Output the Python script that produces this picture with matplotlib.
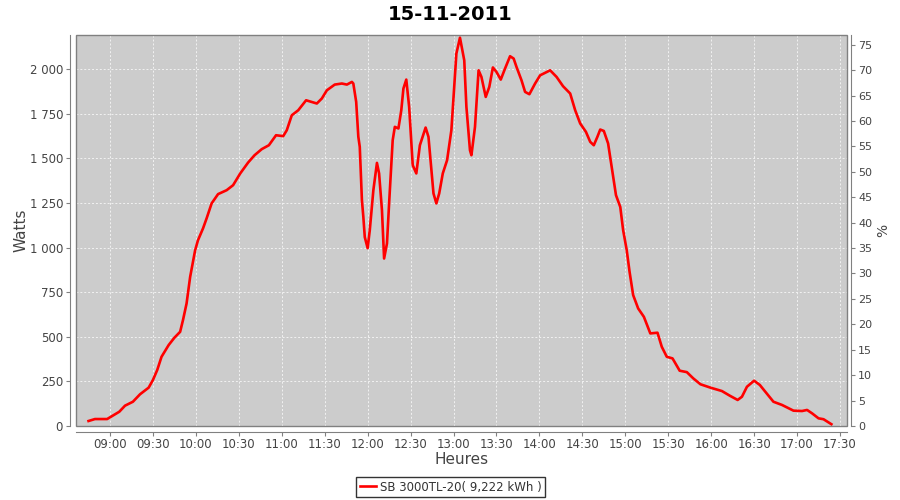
import matplotlib
matplotlib.use("Agg")
import matplotlib.pyplot as plt
from matplotlib.patches import Rectangle
from matplotlib.ticker import FuncFormatter

# time in minutes since midnight, power in watts
minutes = [525, 529.5, 538, 542, 546.5, 550.5, 556, 561, 567, 570, 573, 576, 581, 585, 589,
           591, 593.5, 596, 599.5, 601.5, 605, 607.5, 611, 615.5, 621.5, 626, 631, 636.5, 641,
           646, 651, 656, 661, 663.5, 667, 671.5, 677, 684.5, 688, 691.5, 697, 702, 705.5, 709,
           710, 712, 713.5, 714.5, 716, 717, 718, 720, 721.5, 724, 726.5, 728, 730, 731.5, 733.5,
           735, 737.5, 739, 741.5, 743.5, 745, 747, 749, 751.5, 754, 756.5, 760.5, 762.5, 766,
           768, 770, 772.5, 775.5, 778.5, 782, 784.5, 787.5, 789, 791.5, 792.5, 795, 797.5, 799.5,
           802.5, 805, 807.5, 810, 813, 816, 819.5, 822, 824, 827.5, 830, 833, 837, 840.5, 847.5,
           852, 856.5, 861.5, 865, 868.5, 872.5, 875.5, 878, 880.5, 882.5, 885, 888, 890.5, 893.5,
           896.5, 898.5, 901, 903, 905.5, 909, 913, 917.5, 922.5, 925.5, 929, 933, 938, 943,
           947.5, 952.5, 959.5, 967.5, 973, 978.5, 981.5, 985, 990, 994, 1003.5, 1009.5, 1017.5,
           1023.5, 1027, 1030.5, 1035, 1038.5, 1044]
watts = [28, 39, 39, 58, 80, 114, 136, 178, 215, 258, 314, 388, 454, 495, 528,
         594, 687, 836, 986, 1042, 1108, 1164, 1248, 1300, 1322, 1350, 1416, 1477, 1518,
         1552, 1574, 1630, 1625, 1658, 1742, 1770, 1826, 1808, 1836, 1882, 1914, 1920, 1914, 1929,
         1920, 1817, 1621, 1565, 1266, 1172, 1059, 997, 1098, 1322, 1475, 1416, 1210, 939, 1023,
         1248, 1602, 1677, 1668, 1770, 1892, 1942, 1789, 1462, 1416, 1574, 1673, 1621, 1304,
         1248, 1304, 1416, 1490, 1658, 2088, 2177, 2050, 1789, 1546, 1518, 1677, 1994, 1957,
         1845, 1901, 2010, 1985, 1942, 2004, 2073, 2060, 2013, 1938, 1873, 1860, 1920, 1966, 1994,
         1957, 1905, 1864, 1770, 1696, 1649, 1593, 1574, 1621, 1662, 1654, 1584, 1453, 1294,
         1228, 1098, 986, 864, 734, 659, 612, 519, 523, 444, 388, 379, 310, 302,
         267, 234, 215, 196, 170, 146, 164, 220, 254, 230, 136, 118, 86,
         84, 90, 71, 43, 38, 10]

title = "15-11-2011"
series_label = "SB 3000TL-20( 9,222 kWh )"
x_label = "Heures"
y_label = "Watts"
y2_label = "%"
x_tick_minutes = list(range(540, 1051, 30))
y_ticks = list(range(0, 2001, 250))
y2_ticks = list(range(0, 76, 5))

plt.rcParams['font.family'] = ['DejaVu Sans']
fig = plt.figure(figsize=(9, 5), dpi=100)
fig.patch.set_facecolor('white')

ax = fig.add_axes([75.5 / 900, 1 - 426 / 500, (847 - 75.5) / 900, (426 - 35) / 500])
ax.set_facecolor('#cccccc')

ax.plot(minutes, watts, color='#ff0000', lw=1.9, label=series_label, zorder=3)

ax.set_xlim(515.9, 1054.9)
ax.set_ylim(0, 2192)

def fmt_time(v, pos):
    h = int(v // 60)
    m = int(round(v - h * 60))
    return f"{h:02d}:{m:02d}"

def fmt_w(v, pos):
    return f"{int(v):,}".replace(",", " ")

ax.set_xticks(x_tick_minutes)
ax.xaxis.set_major_formatter(FuncFormatter(fmt_time))
ax.set_yticks(y_ticks)
ax.yaxis.set_major_formatter(FuncFormatter(fmt_w))

ax.grid(True, color='#f2f2f2', linestyle=(0, (2, 2)), linewidth=0.7, zorder=1)
ax.set_axisbelow(True)

for s in ['left', 'bottom']:
    ax.spines[s].set_position(('outward', 4))
    ax.spines[s].set_color('#808080')
ax.spines['top'].set_visible(False)
ax.spines['right'].set_visible(False)
ax.add_patch(Rectangle((0, 0), 1, 1, transform=ax.transAxes, fill=False,
                       edgecolor='#808080', lw=1.0, zorder=4, clip_on=False))

ax.tick_params(axis='both', colors='#808080', labelcolor='#444444', labelsize=8.5,
               length=3, direction='out')
ax.tick_params(axis='x', pad=1.5)
ax.tick_params(axis='y', pad=2)

ax.set_xlabel(x_label, fontsize=11, color='#444444', labelpad=1)
ax.set_ylabel(y_label, fontsize=11, color='#444444', labelpad=1)

ax2 = ax.twinx()
ax2.set_ylim(0, 76.9)
ax2.set_yticks(y2_ticks)
for s in ['left', 'bottom', 'top']:
    ax2.spines[s].set_visible(False)
ax2.spines['right'].set_position(('outward', 3))
ax2.spines['right'].set_color('#808080')
ax2.tick_params(axis='y', colors='#808080', labelcolor='#444444', labelsize=8,
                length=3, direction='out', pad=2)
ax2.set_ylabel(y2_label, fontsize=10, color='#444444', labelpad=3)

fig.suptitle(title, x=0.5, y=0.99, fontsize=14, fontweight='bold', color='black')

leg = ax.legend(loc='upper center', fontsize=8.5, frameon=True, fancybox=False,
                handlelength=1.4, handletextpad=0.3, borderpad=0.3, borderaxespad=0)
leg.set_bbox_to_anchor((450.5 / 900, 1 - 477 / 500, 0, 0), transform=fig.transFigure)
leg.get_frame().set_edgecolor('black')
leg.get_frame().set_linewidth(1.0)
for t in leg.get_texts():
    t.set_color('#333333')

fig.savefig('out.png', dpi=100)
